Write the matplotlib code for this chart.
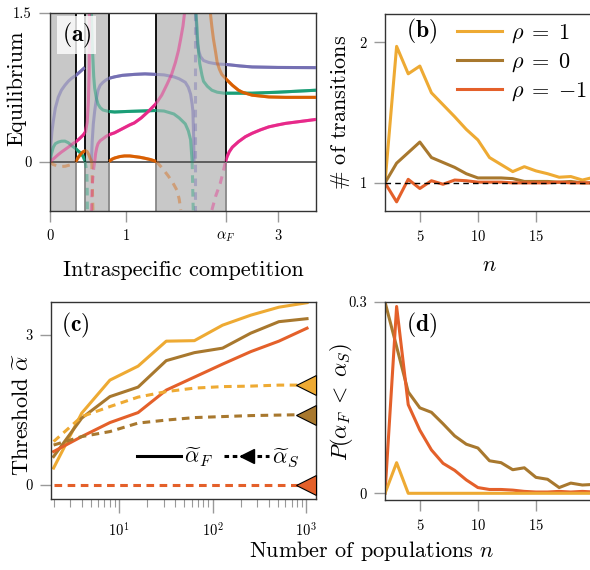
import matplotlib
matplotlib.use('Agg')
import matplotlib.pyplot as plt
from matplotlib.lines import Line2D
from matplotlib.patches import Rectangle

plt.rcParams.update({
    'font.family': 'serif', 'font.serif': ['cmr10'], 'mathtext.fontset': 'cm',
    'axes.formatter.use_mathtext': True, 'font.size': 16,
})

# ---------------- Panel (a) data: equilibrium branches ----------------
purple_1_x = [0, 0.01, 0.025, 0.044, 0.07, 0.109, 0.15, 0.196, 0.24, 0.283, 0.34, 0.40, 0.458]
purple_1_y = [0, 0.15, 0.30, 0.41, 0.54, 0.65, 0.72, 0.77, 0.81, 0.84, 0.87, 0.91, 0.95]
purple_2_x = [0.545, 0.555, 0.57, 0.588, 0.61, 0.632, 0.66, 0.697, 0.74, 0.775, 0.85, 0.95, 1.11, 1.25,
              1.39, 1.50, 1.63, 1.70, 1.78, 1.82, 1.85, 1.87, 1.88, 1.89, 1.895]
purple_2_y = [0, 0.2, 0.38, 0.51, 0.63, 0.72, 0.77, 0.80, 0.825, 0.84, 0.855, 0.87, 0.88, 0.885,
              0.88, 0.875, 0.855, 0.835, 0.80, 0.75, 0.68, 0.58, 0.51, 0.25, 0.0]
purple_3_x = [1.92, 1.93, 1.94, 1.96, 1.98, 2.02, 2.09, 2.2, 2.32, 2.5, 2.66, 3.0, 3.5]
purple_3_y = [1.5, 1.30, 1.19, 1.11, 1.06, 1.02, 1.0, 0.985, 0.98, 0.965, 0.955, 0.95, 0.948]
purple_neg_x = [1.905, 1.905]
purple_neg_y = [1.5, -0.5]

green_1_x = [0, 0.02, 0.044, 0.07, 0.109, 0.15, 0.196, 0.24, 0.283, 0.34, 0.38, 0.414, 0.44, 0.458]
green_1_y = [0, 0.08, 0.145, 0.18, 0.196, 0.205, 0.206, 0.19, 0.162, 0.128, 0.10, 0.078, 0.045, 0.01]
green_neg1_x = [0.458, 0.485, 0.49, 0.492]
green_neg1_y = [0.01, -0.1, -0.3, -0.5]
green_2_x = [0.545, 0.555, 0.567, 0.575, 0.588, 0.61, 0.632, 0.66, 0.697, 0.775, 0.85, 1.0, 1.2, 1.39,
             1.5, 1.63, 1.70, 1.78, 1.82, 1.85, 1.87]
green_2_y = [1.5, 1.2, 1.0, 0.86, 0.74, 0.64, 0.58, 0.545, 0.52, 0.505, 0.50, 0.505, 0.51, 0.515,
             0.51, 0.48, 0.44, 0.38, 0.31, 0.22, 0.0]
green_neg2_x = [1.87, 1.875, 1.88, 1.885]
green_neg2_y = [0, -0.15, -0.35, -0.5]
green_3_x = [1.92, 1.935, 1.94, 1.955, 1.97, 2.0, 2.02, 2.07, 2.13, 2.2, 2.29, 2.4, 2.66, 3.0, 3.5]
green_3_y = [1.5, 1.35, 1.26, 1.10, 0.99, 0.87, 0.81, 0.76, 0.72, 0.70, 0.69, 0.69, 0.69, 0.70, 0.72]

orange_neg0_x = [0, 0.04, 0.1, 0.15, 0.2, 0.26, 0.3, 0.34]
orange_neg0_y = [0, -0.03, -0.045, -0.05, -0.048, -0.035, -0.02, 0]
orange_1_x = [0.34, 0.37, 0.40, 0.43, 0.467, 0.49, 0.51, 0.53, 0.55]
orange_1_y = [0, 0.04, 0.07, 0.095, 0.11, 0.10, 0.07, 0.03, 0]
orange_neg1_x = [0.55, 0.555, 0.56, 0.565]
orange_neg1_y = [0, -0.15, -0.35, -0.5]
orange_2_x = [0.775, 0.82, 0.85, 0.92, 0.98, 1.05, 1.11, 1.18, 1.24, 1.32, 1.40]
orange_2_y = [0, 0.025, 0.035, 0.05, 0.056, 0.056, 0.05, 0.043, 0.034, 0.02, 0]
orange_neg2_x = [1.40, 1.48, 1.56, 1.62, 1.67, 1.70, 1.72]
orange_neg2_y = [0, -0.07, -0.15, -0.22, -0.29, -0.38, -0.49]
orange_3_x = [2.11, 2.13, 2.15, 2.18, 2.2, 2.23, 2.26, 2.32, 2.40, 2.48, 2.53, 2.66, 2.88, 3.1, 3.5]
orange_3_y = [1.5, 1.36, 1.24, 1.1, 1.0, 0.93, 0.88, 0.83, 0.77, 0.72, 0.70, 0.67, 0.652, 0.648, 0.648]

pink_1_x = [0, 0.05, 0.109, 0.15, 0.196, 0.25, 0.3, 0.34, 0.38, 0.414, 0.44, 0.467, 0.49, 0.505, 0.515, 0.52]
pink_1_y = [0, 0.03, 0.07, 0.095, 0.12, 0.15, 0.18, 0.2, 0.225, 0.25, 0.27, 0.30, 0.4, 0.6, 0.9, 1.5]
pink_neg1_x = [0.545, 0.55, 0.56, 0.575, 0.588]
pink_neg1_y = [-0.5, -0.35, -0.2, -0.07, 0]
pink_2_x = [0.588, 0.60, 0.615, 0.632, 0.66, 0.697, 0.74, 0.775, 0.85, 0.95, 1.05, 1.11, 1.2, 1.3, 1.39,
            1.47, 1.54, 1.6, 1.65, 1.69, 1.72, 1.75, 1.77]
pink_2_y = [0, 0.08, 0.14, 0.18, 0.21, 0.23, 0.255, 0.27, 0.29, 0.33, 0.37, 0.39, 0.44, 0.51, 0.58,
            0.67, 0.78, 0.88, 1.0, 1.12, 1.24, 1.37, 1.5]
pink_neg2_x = [2.13, 2.18, 2.24, 2.28, 2.31]
pink_neg2_y = [-0.49, -0.35, -0.22, -0.1, 0]
pink_3_x = [2.31, 2.33, 2.36, 2.40, 2.48, 2.57, 2.66, 2.77, 2.88, 3.0, 3.1, 3.3, 3.5]
pink_3_y = [0, 0.05, 0.10, 0.145, 0.2, 0.25, 0.285, 0.32, 0.35, 0.37, 0.385, 0.405, 0.425]

unstable_regions = [(0, 0.34), (0.467, 0.775), (1.40, 2.31)]
stable_regions = [(0.34, 0.467), (0.775, 1.40), (2.31, 3.5)]
transitions = [0.34, 0.467, 0.775, 1.40, 2.31]
alpha_F = 2.31

# ---------------- Panel (b) data ----------------
n_b = list(range(2, 21))
trans_rho1 = [1.0, 1.97, 1.775, 1.83, 1.64, 1.555, 1.47, 1.38, 1.305, 1.18, 1.13, 1.08, 1.115,
              1.085, 1.065, 1.04, 1.045, 1.02, 1.04]
trans_rho0 = [1.0, 1.14, 1.215, 1.29, 1.18, 1.145, 1.11, 1.065, 1.035, 1.035, 1.035, 1.03, 1.01,
              1.01, 1.01, 1.005, 1.01, 1.0, 1.0]
trans_rhom1 = [1.0, 0.865, 1.025, 0.96, 1.015, 0.99, 1.02, 1.015, 1.005, 1.005, 1.005, 1.0, 1.0,
               1.0, 1.0, 1.005, 1.0, 1.0, 1.0]

# ---------------- Panel (c) data ----------------
n_c = [2, 4, 8, 16, 32, 64, 128, 256, 512, 1024]
aF_rho1 = [0.33, 1.43, 2.09, 2.37, 2.87, 2.88, 3.19, 3.39, 3.55, 3.64]
aF_rho0 = [0.56, 1.33, 1.76, 1.95, 2.48, 2.64, 2.73, 3.03, 3.26, 3.32]
aF_rhom1 = [0.66, 0.96, 1.24, 1.44, 1.89, 2.15, 2.41, 2.66, 2.87, 3.13]
aS_rho1 = [0.86, 1.36, 1.56, 1.75, 1.86, 1.93, 1.96, 1.97, 1.99, 1.99]
aS_rho0 = [0.79, 0.96, 1.06, 1.23, 1.29, 1.34, 1.36, 1.38, 1.39, 1.40]
aS_rhom1 = [0, 0, 0, 0, 0, 0, 0, 0, 0, 0]
aS_limit = [2.0, 1.4, 0.0]
n_limit = 1000

# ---------------- Panel (d) data ----------------
n_d = list(range(2, 21))
p_rho1 = [0, 0.048, 0, 0, 0, 0, 0, 0, 0, 0, 0, 0, 0, 0, 0, 0, 0, 0, 0]
p_rho0 = [0.30, 0.23, 0.159, 0.134, 0.127, 0.109, 0.09, 0.077, 0.071, 0.051, 0.048, 0.037, 0.040,
          0.025, 0.022, 0.009, 0.016, 0.013, 0.014]
p_rhom1 = [0, 0.293, 0.139, 0.099, 0.068, 0.047, 0.036, 0.021, 0.009, 0.006, 0.006, 0.005, 0.003,
           0.002, 0.002, 0.003, 0.002, 0.003, 0.002]

# colours
C_PUR, C_GRN, C_ORA, C_PNK = '#7570b3', '#1b9e77', '#d95f02', '#e7298a'
C_Y, C_B, C_R = '#eeaa33', '#a8782e', '#e4602a'

W, H = 590, 570
fig = plt.figure(figsize=(W / 100, H / 100), dpi=100)


def box(l, t, r, b):
    return [l / W, 1 - b / H, (r - l) / W, (b - t) / H]


axA = fig.add_axes(box(50, 13, 316, 211))
axB = fig.add_axes(box(385, 14, 594, 211))
axC = fig.add_axes(box(51, 302, 316, 499))
axD = fig.add_axes(box(385, 302, 594, 500))

for ax in (axA, axB, axC, axD):
    for s in ax.spines.values():
        s.set_color('#333333')
        s.set_linewidth(1.0)
    ax.tick_params(which='major', direction='out', length=8, width=1, color='#999999',
                   labelsize=10.5, pad=5)
    ax.tick_params(which='minor', direction='out', length=5, width=0.8, color='#999999')

# ---- Panel (a) ----
axA.set_xlim(0, 3.5)
axA.set_ylim(-0.5, 1.5)
for (x0, x1) in unstable_regions:
    axA.axvspan(x0, x1, color='#c8c8c8', lw=0, zorder=0)
axA.axhline(0, color='#555555', lw=1.3, zorder=1)
for xv in transitions:
    axA.vlines(xv, 0, 1.5, color='black', lw=1.3, zorder=1)
    axA.vlines(xv, -0.5, 0, color='#888888', lw=1.3, zorder=1)

solid = [(purple_1_x, purple_1_y, C_PUR), (purple_2_x, purple_2_y, C_PUR), (purple_3_x, purple_3_y, C_PUR),
         (green_1_x, green_1_y, C_GRN), (green_2_x, green_2_y, C_GRN), (green_3_x, green_3_y, C_GRN),
         (orange_1_x, orange_1_y, C_ORA), (orange_2_x, orange_2_y, C_ORA), (orange_3_x, orange_3_y, C_ORA),
         (pink_1_x, pink_1_y, C_PNK), (pink_2_x, pink_2_y, C_PNK), (pink_3_x, pink_3_y, C_PNK)]
dashed = [(purple_neg_x, purple_neg_y, C_PUR), (green_neg1_x, green_neg1_y, C_GRN),
          (green_neg2_x, green_neg2_y, C_GRN), (orange_neg0_x, orange_neg0_y, C_ORA),
          (orange_neg1_x, orange_neg1_y, C_ORA), (orange_neg2_x, orange_neg2_y, C_ORA),
          (pink_neg1_x, pink_neg1_y, C_PNK), (pink_neg2_x, pink_neg2_y, C_PNK)]
for xs, ys, c in dashed:
    axA.plot(xs, ys, color=c, lw=2.2, ls=(0, (2.5, 2.0)), alpha=0.4, zorder=2)
for xs, ys, c in solid:
    axA.plot(xs, ys, color=c, lw=2.2, alpha=0.5, zorder=2, solid_capstyle='butt')
    for (x0, x1) in stable_regions:
        ln, = axA.plot(xs, ys, color=c, lw=2.2, zorder=3, solid_capstyle='butt')
        rect = Rectangle((x0, -1), x1 - x0, 3, transform=axA.transData)
        ln.set_clip_path(rect)

axA.set_xticks([0, 1, alpha_F, 3])
axA.set_xticklabels(['0', '1', r'$\alpha_F$', '3'])
axA.set_yticks([0, 1.5])
axA.set_yticklabels(['0', '1.5'])
axA.set_xlabel('Intraspecific competition', fontsize=16, labelpad=12)
axA.set_ylabel('Equilibrium', fontsize=16, va='center')
axA.yaxis.set_label_coords(-0.124, 0.62)
axA.text(0.10, 0.889, r'$(\mathbf{a})$', transform=axA.transAxes, ha='center', va='center',
         fontsize=17, zorder=5,
         bbox=dict(boxstyle='square,pad=0.2', facecolor='white', edgecolor='none', alpha=0.8))

# ---- Panel (b) ----
axB.set_xlim(2, 20)
axB.set_ylim(0.8, 2.2)
axB.plot(n_b, trans_rho1, color=C_Y, lw=2.2, label=r'$\rho\;=\;1$')
axB.plot(n_b, trans_rho0, color=C_B, lw=2.2, label=r'$\rho\;=\;0$')
axB.plot(n_b, trans_rhom1, color=C_R, lw=2.2, label=r'$\rho\;=\;{-1}$')
axB.axhline(1, color='black', lw=1, ls=(0, (4, 3)), zorder=4)
axB.set_xticks([5, 10, 15])
axB.set_yticks([1, 2])
axB.set_yticklabels(['1', '2'])
axB.set_xlabel(r'$n$', fontsize=16, labelpad=8)
axB.set_ylabel(r'$\#$ of transitions', fontsize=16, va='center')
axB.yaxis.set_label_coords(-0.215, 0.5)
axB.text(0.175, 0.91, r'$(\mathbf{b})$', transform=axB.transAxes, ha='center', va='center', fontsize=17)
axB.legend(loc='upper left', bbox_to_anchor=(0.25, 1.06), frameon=False, fontsize=16,
           handlelength=2.0, labelspacing=0.3, handletextpad=0.4)

# ---- Panel (c) ----
axC.set_xscale('log')
axC.set_xlim(1.876, 1277)
axC.set_ylim(-0.29, 3.654)
axC.plot(n_c, aF_rho1, color=C_Y, lw=2.2)
axC.plot(n_c, aF_rho0, color=C_B, lw=2.2)
axC.plot(n_c, aF_rhom1, color=C_R, lw=2.2)
dash = (0, (2.5, 1.8))
axC.plot(n_c, aS_rho1, color=C_Y, lw=2.2, ls=dash)
axC.plot(n_c, aS_rho0, color=C_B, lw=2.2, ls=dash)
axC.plot(n_c, aS_rhom1, color=C_R, lw=2.2, ls=dash)
for v, c in zip(aS_limit, [C_Y, C_B, C_R]):
    axC.plot([n_limit], [v], marker='<', markersize=15, color=c, markeredgecolor='black',
             markeredgewidth=0.8, zorder=5, clip_on=False)
axC.set_yticks([0, 3])
axC.set_yticklabels(['0', '3'])
axC.set_xticks([10, 100, 1000])
axC.set_xticklabels([r'$10^1$', r'$10^2$', r'$10^3$'])
axC.tick_params(axis='x', which='major', length=10, pad=6)
axC.tick_params(axis='x', which='minor', length=6)
axC.set_ylabel(r'Threshold $\widetilde{\alpha}$', fontsize=16, va='center')
axC.yaxis.set_label_coords(-0.109, 0.43)
axC.text(0.09, 0.883, r'$(\mathbf{c})$', transform=axC.transAxes, ha='center', va='center', fontsize=17)
hF = Line2D([], [], color='black', lw=2.2)
hS = Line2D([], [], color='black', lw=2.2, ls=(0, (1.5, 1.2)), marker='<', markersize=10)
axC.legend([hF, hS], [r'$\widetilde{\alpha}_F$', r'$\widetilde{\alpha}_S$'], ncol=2, frameon=False,
           loc='center', bbox_to_anchor=(0.63, 0.21), fontsize=16, handlelength=2.0,
           handletextpad=0.15, columnspacing=0.5)

# ---- Panel (d) ----
axD.set_xlim(2, 20)
axD.set_ylim(-0.0105, 0.3)
axD.plot(n_d, p_rho0, color=C_B, lw=2.2)
axD.plot(n_d, p_rhom1, color=C_R, lw=2.2)
axD.plot(n_d, p_rho1, color=C_Y, lw=2.2)
axD.set_xticks([5, 10, 15])
axD.set_yticks([0, 0.3])
axD.set_yticklabels(['0', '0.3'])
axD.set_ylabel(r'$P(\alpha_F\;<\;\alpha_S)$', fontsize=16, va='center')
axD.yaxis.set_label_coords(-0.207, 0.495)
axD.text(0.175, 0.884, r'$(\mathbf{d})$', transform=axD.transAxes, ha='center', va='center', fontsize=17)

fig.text(372 / W, 1 - 551 / H, r'Number of populations $n$', ha='center', va='center', fontsize=16)

fig.savefig('out.png', dpi=100)
